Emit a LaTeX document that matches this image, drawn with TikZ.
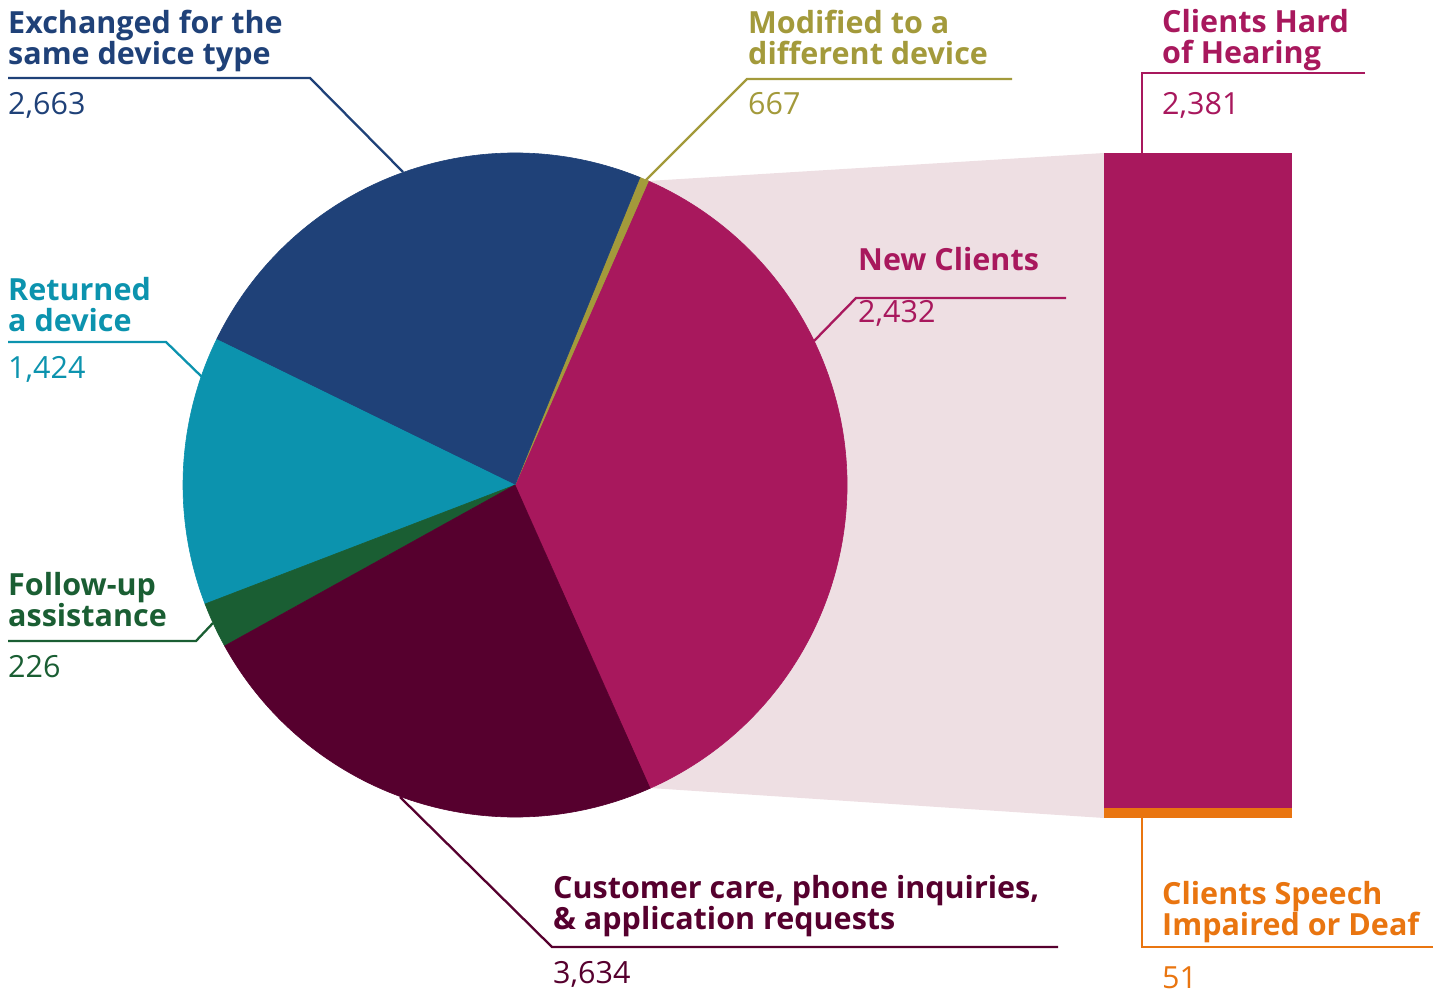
\documentclass[tikz,border=0pt]{standalone}
\usepackage{fontspec}
\setmainfont{Open Sans}
\definecolor{navy}{HTML}{1F4178}
\definecolor{teal}{HTML}{0C93AE}
\definecolor{fgreen}{HTML}{1A5E33}
\definecolor{maroon}{HTML}{56002E}
\definecolor{magenta}{HTML}{A8185D}
\definecolor{olive}{HTML}{A39A3B}
\definecolor{orange}{HTML}{E97510}
\definecolor{pinkbg}{HTML}{EEDFE3}
\tikzset{
  lab/.style={anchor=base west, inner sep=0pt, align=left, font=\bfseries\fontsize{30.5}{31}\selectfont},
  num/.style={anchor=base west, inner sep=0pt, font=\fontsize{30.5}{31}\selectfont},
  leader/.style={line width=2.3pt, line join=miter},
  slice/.style={line width=0.6pt}
}
\begin{document}
\begin{tikzpicture}[x=1pt,y=1pt]
\useasboundingbox (0,0) rectangle (1445,-992);
% background wedge to bar
\fill[pinkbg] (648,-181) -- (1104,-153) -- (1104,-818) -- (650,-788) -- cycle;
% pie
\begin{scope}[shift={(515,-485)}]
\filldraw[magenta,slice] (0,0) -- (-66:332) arc[start angle=-66, end angle=66.3, radius=332] -- cycle;
\filldraw[olive,slice] (0,0) -- (66.3:332) arc[start angle=66.3, end angle=67.9, radius=332] -- cycle;
\filldraw[navy,slice] (0,0) -- (67.9:332) arc[start angle=67.9, end angle=154, radius=332] -- cycle;
\filldraw[teal,slice] (0,0) -- (154:332) arc[start angle=154, end angle=201, radius=332] -- cycle;
\filldraw[fgreen,slice] (0,0) -- (201:332) arc[start angle=201, end angle=209, radius=332] -- cycle;
\filldraw[maroon,slice] (0,0) -- (209:332) arc[start angle=209, end angle=294, radius=332] -- cycle;
\end{scope}
% bar
\fill[magenta] (1104,-153) rectangle (1292,-808);
\fill[orange] (1104,-808) rectangle (1292,-818);
% leader coordinates
\coordinate (exA) at (8,-78);   \coordinate (exB) at (310,-78);  \coordinate (exC) at (403,-172);
\coordinate (moA) at (1012,-79); \coordinate (moB) at (747,-79); \coordinate (moC) at (645,-181);
\coordinate (hhA) at (1365,-73); \coordinate (hhB) at (1142,-73); \coordinate (hhC) at (1142,-153);
\coordinate (reA) at (8,-342);  \coordinate (reB) at (166,-342); \coordinate (reC) at (202,-377);
\coordinate (fuA) at (8,-641);  \coordinate (fuB) at (196,-641); \coordinate (fuC) at (213,-623);
\coordinate (ncA) at (1066,-298); \coordinate (ncB) at (856,-298); \coordinate (ncC) at (814,-341);
\coordinate (ccA) at (1058,-947); \coordinate (ccB) at (552,-947); \coordinate (ccC) at (400,-797);
\coordinate (spA) at (1433,-947); \coordinate (spB) at (1142,-947); \coordinate (spC) at (1142,-818);
\draw[leader,navy] (exA) -- (exB) -- (exC);
\draw[leader,olive] (moA) -- (moB) -- (moC);
\draw[leader,magenta] (hhA) -- (hhB) -- (hhC);
\draw[leader,teal] (reA) -- (reB) -- (reC);
\draw[leader,fgreen] (fuA) -- (fuB) -- (fuC);
\draw[leader,magenta] (ncA) -- (ncB) -- (ncC);
\draw[leader,maroon] (ccA) -- (ccB) -- (ccC);
\draw[leader,orange] (spA) -- (spB) -- (spC);
% labels (anchor = baseline of the last line)
\node[lab,navy] (exT) at (8,-65) {Exchanged for the\\same device type};
\node[num,navy] (exN) at (8,-115) {2,663};
\node[lab,olive] (moT) at (748,-65) {Modified to a\\different device};
\node[num,olive] (moN) at (748,-115) {667};
\node[lab,magenta] (hhT) at (1162,-64) {Clients Hard\\of Hearing};
\node[num,magenta] (hhN) at (1162,-115) {2,381};
\node[lab,teal] (reT) at (8,-331) {Returned\\a device};
\node[num,teal] (reN) at (8,-378) {1,424};
\node[lab,fgreen] (fuT) at (8,-626) {Follow-up\\assistance};
\node[num,fgreen] (fuN) at (8,-677) {226};
\node[lab,magenta] (ncT) at (858,-271) {New Clients};
\node[num,magenta] (ncN) at (858,-322) {2,432};
\node[lab,maroon] (ccT) at (553,-929) {Customer care, phone inquiries,\\\& application requests};
\node[num,maroon] (ccN) at (553,-983) {3,634};
\node[lab,orange] (spT) at (1162,-935) {Clients Speech\\Impaired or Deaf};
\node[num,orange] (spN) at (1162,-988) {51};
\end{tikzpicture}
\end{document}
